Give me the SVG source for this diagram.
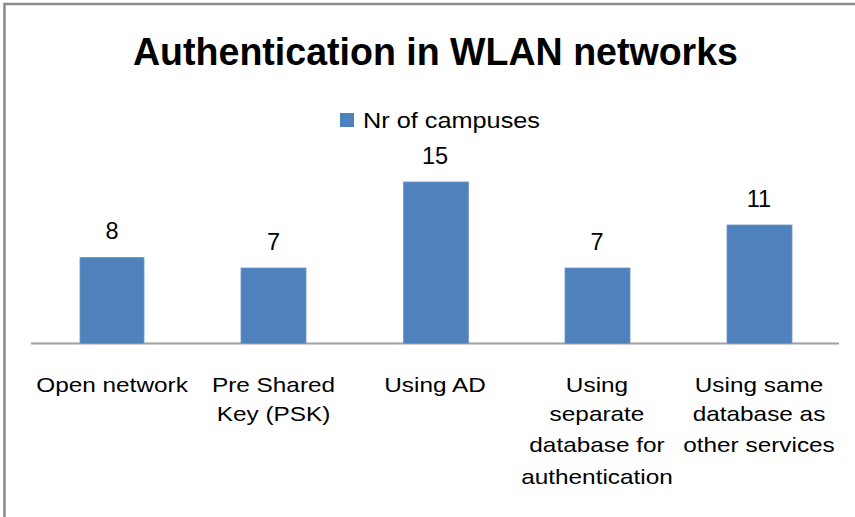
<svg xmlns="http://www.w3.org/2000/svg" width="855" height="517" viewBox="0 0 855 517">
<style>
.title{font-family:"Liberation Sans",Arial,sans-serif;font-weight:bold;font-size:39px;fill:#000}
.lbl{font-family:"Liberation Sans",Arial,sans-serif;font-size:21px;fill:#000;text-anchor:middle}
.val{font-family:"Liberation Sans",Arial,sans-serif;font-size:23.5px;fill:#000;text-anchor:middle}
.leg{font-family:"Liberation Sans",Arial,sans-serif;font-size:22px;fill:#000}
.bar{fill:#4f81bd;stroke:#6f97c9;stroke-width:0.8}
</style>
<rect x="0" y="0" width="855" height="517" fill="#fff"/>
<rect x="4.5" y="4" width="900" height="600" fill="none" stroke="#8a8a8a" stroke-width="2.5"/>
<g id="title"><text class="title" x="133" y="65" textLength="605" lengthAdjust="spacingAndGlyphs">Authentication in WLAN networks</text></g>
<g id="legend">
<rect x="340" y="113" width="14" height="14" fill="#4f81bd"/>
<text class="leg" x="363" y="128" textLength="177" lengthAdjust="spacingAndGlyphs">Nr of campuses</text>
</g>
<g id="axis"><line x1="31" y1="343.5" x2="839" y2="343.5" stroke="#a0a0a0" stroke-width="1.8"/></g>
<g id="bar-open">
<rect class="bar" x="80" y="257.4" width="64" height="86"/>
<text class="val" x="112" y="239">8</text>
<g transform="translate(112,0) scale(1.16,1)"><text class="lbl" x="0" y="392">Open network</text></g>
</g>
<g id="bar-psk">
<rect class="bar" x="241" y="268" width="65" height="75.4"/>
<text class="val" x="273.5" y="249.5">7</text>
<g transform="translate(273.5,0) scale(1.16,1)"><text class="lbl" x="0" y="392">Pre Shared</text><text class="lbl" x="0" y="421">Key (PSK)</text></g>
</g>
<g id="bar-ad">
<rect class="bar" x="403.5" y="182" width="65" height="161.4"/>
<text class="val" x="435" y="163.5">15</text>
<g transform="translate(435,0) scale(1.16,1)"><text class="lbl" x="0" y="392">Using AD</text></g>
</g>
<g id="bar-separate">
<rect class="bar" x="565" y="268" width="65" height="75.4"/>
<text class="val" x="597" y="249.5">7</text>
<g transform="translate(597,0) scale(1.16,1)"><text class="lbl" x="0" y="392">Using</text><text class="lbl" x="0" y="421">separate</text><text class="lbl" x="0" y="452">database for</text><text class="lbl" x="0" y="484">authentication</text></g>
</g>
<g id="bar-same">
<rect class="bar" x="727" y="225" width="65" height="118.4"/>
<text class="val" x="759" y="206.5">11</text>
<g transform="translate(759,0) scale(1.16,1)"><text class="lbl" x="0" y="392">Using same</text><text class="lbl" x="0" y="421">database as</text><text class="lbl" x="0" y="452">other services</text></g>
</g>
</svg>
